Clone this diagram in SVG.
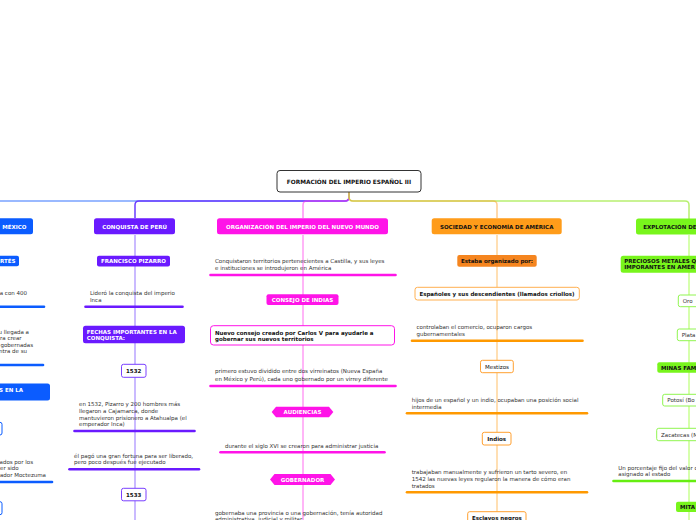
<svg xmlns="http://www.w3.org/2000/svg" width="696" height="520" viewBox="0 0 696 520">
<style>
.t{font-family:"DejaVu Sans",sans-serif;font-size:5.5px;fill:#333}
.b{font-weight:bold}
.w{fill:#fff}
.k{fill:#111}
.m{text-anchor:middle}
.e{text-anchor:end}
.c{fill:none;stroke-width:1.5}
.bar{fill:none;stroke-width:2.6;stroke-linecap:round}
</style>
<rect width="696" height="520" fill="#fff"/>
<g id="connectors">
<path class="c" stroke="#7aa2ff" d="M349,192 V197 Q349,201 345,201 H-20"/>
<path class="c" stroke="#6a3dff" d="M349,192 V197 Q349,201 345,201 H139 Q135,201 135,205 V218"/>
<path class="c" stroke="#ff33ee" stroke-opacity="0.55" d="M349,192 V197 Q349,201 345,201 H307 Q303,201 303,205 V218"/>
<path class="c" stroke="#b8f070" d="M349,192 V197 Q349,201 353,201 H685 Q689,201 689,205 V219"/>
<path class="c" stroke="#ff9a20" stroke-opacity="0.5" d="M349,192 V197 Q349,201 353,201 H493 Q497,201 497,205 V218"/>
<path class="c" stroke="#b9a3ff" d="M135,235 V520"/>
<path class="c" stroke="#ff9cf5" d="M303,235 V520"/>
<path class="c" stroke="#ffd59a" d="M497,235 V520"/>
<path class="c" stroke="#c8ff90" d="M689,235 V520"/>
</g>
<g id="root">
<rect x="277" y="170.5" width="144" height="21.5" rx="3" fill="#fff" stroke="#333" stroke-width="1"/>
<text class="t b k m" x="349" y="183.5" style="font-size:5.8px">FORMACIÓN DEL IMPERIO ESPAÑOL III</text>
</g>
<g id="mexico">
<rect x="-60" y="218.3" width="93" height="16" rx="2.5" fill="#0b5cff"/>
<text class="t b w e" x="26.5" y="228.5">MÉXICO</text>
<rect x="-40" y="255.7" width="59" height="10.5" rx="2" fill="#0b5cff"/>
<text class="t b w e" x="15.5" y="262.9">RTÉS</text>
<text class="t e" x="27" y="295.2">a con 400</text>
<path class="bar" stroke="#0b5cff" d="M-5,306.7 H44"/>
<text class="t e" x="29" y="333.7">u llegada a</text>
<text class="t" x="0" y="340.2">ra crear</text>
<text class="t e" x="33" y="346.9">gobernadas</text>
<text class="t e" x="27" y="353.2">ntra de su</text>
<path class="bar" stroke="#0b5cff" d="M-5,365 H43"/>
<rect x="-60" y="383.5" width="110" height="17" rx="2.5" fill="#0b5cff"/>
<text class="t b w e" x="23" y="392">S EN LA</text>
<rect x="-30" y="422.3" width="32" height="12.7" rx="2" fill="#fff" stroke="#0b5cff" stroke-width="1"/>
<text class="t e" x="33" y="464">ados por los</text>
<text class="t" x="0" y="470.2">er sido</text>
<text class="t e" x="46" y="477">rador Moctezuma</text>
<path class="bar" stroke="#0b5cff" d="M-5,482 H52"/>
<rect x="-30" y="501.7" width="32" height="13" rx="2" fill="#fff" stroke="#0b5cff" stroke-width="1"/>
</g>
<g id="peru">
<rect x="94" y="218.3" width="81" height="16" rx="2.5" fill="#6a1aff"/>
<text class="t b w m" x="134.5" y="228.5">CONQUISTA DE PERÚ</text>
<rect x="97" y="255.7" width="73" height="10.7" rx="2" fill="#6a1aff"/>
<text class="t b w m" x="133.5" y="263">FRANCISCO PIZARRO</text>
<text class="t" x="90" y="295.2">Lideró la conquista del imperio</text>
<text class="t" x="90" y="302.2">Inca</text>
<path class="bar" stroke="#6a1aff" d="M85.5,306.7 H182.5"/>
<rect x="83" y="325.7" width="102" height="17.6" rx="2.5" fill="#6a1aff"/>
<text class="t b w" x="86.7" y="334.2">FECHAS IMPORTANTES EN LA</text>
<text class="t b w" x="86.7" y="340.3">CONQUISTA:</text>
<rect x="121.5" y="364.3" width="24.5" height="13" rx="2" fill="#fff" stroke="#7a40ff" stroke-width="1"/>
<text class="t b k m" x="133.7" y="372.8">1532</text>
<text class="t" x="79" y="406.2">en 1532, Pizarro y 200 hombres más</text>
<text class="t" x="79" y="413">llegaron a Cajamarca, donde</text>
<text class="t" x="79" y="419.7">mantuvieron prisionero a Atahualpa (el</text>
<text class="t" x="79" y="426.4">emperador Inca)</text>
<path class="bar" stroke="#6a1aff" d="M74.5,431 H194.5"/>
<text class="t" x="74" y="457.7">él pagó una gran fortuna para ser liberado,</text>
<text class="t" x="74" y="464.2">pero poco después fue ejecutado</text>
<path class="bar" stroke="#6a1aff" d="M69.5,469.3 H199"/>
<rect x="121.5" y="488.3" width="24.5" height="12.5" rx="2" fill="#fff" stroke="#7a40ff" stroke-width="1"/>
<text class="t b k m" x="133.7" y="496.7">1533</text>
</g>
<g id="organizacion">
<rect x="217" y="218.3" width="171" height="16" rx="2.5" fill="#ff14e8"/>
<text class="t b w m" x="302.5" y="228.5">ORGANIZACIÓN DEL IMPERIO DEL NUEVO MUNDO</text>
<text class="t" x="215" y="262.7">Conquistaron territorios pertenecientes a Castilla, y sus leyes</text>
<text class="t" x="215" y="269.7">e instituciones se introdujeron en América</text>
<path class="bar" stroke="#ff14e8" d="M210.5,275 H395.5"/>
<rect x="266.5" y="294.3" width="72" height="10.7" rx="2" fill="#ff14e8"/>
<text class="t b w m" x="302.5" y="301.7">CONSEJO DE INDIAS</text>
<rect x="210.5" y="325.7" width="184" height="19.3" rx="3" fill="#fff" stroke="#ff14e8" stroke-width="1"/>
<text class="t b k" x="215" y="334.7">Nuevo consejo creado por Carlos V para ayudarle a</text>
<text class="t b k" x="215" y="341.2">gobernar sus nuevos territorios</text>
<text class="t" x="215" y="372.7">primero estuvo dividido entre dos virreinatos (Nueva España</text>
<text class="t" x="215" y="380.7">en México y Perú), cada uno gobernado por un virrey diferente</text>
<path class="bar" stroke="#ff14e8" d="M210.5,386 H395.5"/>
<polygon points="271.7,412 276,406.7 329,406.7 333.3,412 329,417.3 276,417.3" fill="#ff14e8"/>
<text class="t b w m" x="302.5" y="414">AUDIENCIAS</text>
<text class="t" x="225" y="447.7">durante el siglo XVI se crearon para administrar justicia</text>
<path class="bar" stroke="#ff14e8" d="M220.5,452.3 H384.5"/>
<polygon points="270,479.5 274.5,474 330.5,474 335,479.5 330.5,485 274.5,485" fill="#ff14e8"/>
<text class="t b w m" x="302.5" y="481.5">GOBERNADOR</text>
<text class="t" x="215" y="514.5">gobernaba una provincia o una gobernación, tenía autoridad</text>
<text class="t" x="215" y="521">administrativa, judicial y militar</text>
</g>
<g id="sociedad">
<rect x="431.7" y="218.3" width="130" height="16" rx="2.5" fill="#ff9c1a"/>
<text class="t b k m" x="496.7" y="228.5">SOCIEDAD Y ECONOMÍA DE AMÉRICA</text>
<rect x="457.3" y="255" width="79.4" height="11.7" rx="2" fill="#f5851f"/>
<text class="t b k m" x="497" y="262.8">Estaba organizado por:</text>
<rect x="415" y="287.3" width="164.3" height="12.7" rx="2.5" fill="#fff" stroke="#ffb050" stroke-width="1"/>
<text class="t b k m" x="497" y="295.7">Españoles y sus descendientes (llamados criollos)</text>
<text class="t" x="416.5" y="328.7">controlaban el comercio, ocuparon cargos</text>
<text class="t" x="416.5" y="335.9">gubernamentales</text>
<path class="bar" stroke="#ff9900" d="M412,340.7 H582.5"/>
<rect x="480.5" y="360.3" width="32.8" height="12.4" rx="2" fill="#fff" stroke="#ffa030" stroke-width="1"/>
<text class="t k m" x="497" y="368.5">Mestizos</text>
<text class="t" x="411.7" y="402">hijos de un español y un indio, ocupaban una posición social</text>
<text class="t" x="411.7" y="408.7">intermedia</text>
<path class="bar" stroke="#ff9900" d="M407,413.3 H587"/>
<rect x="482.3" y="432.3" width="28.7" height="12.7" rx="2" fill="#fff" stroke="#ffa030" stroke-width="1"/>
<text class="t b k m" x="496.7" y="440.7">Indios</text>
<text class="t" x="411.7" y="474.2">trabajaban manualmente y sufrieron un tarto severo, en</text>
<text class="t" x="411.7" y="481">1542 las nuevas leyes regularon la manera de cómo eran</text>
<text class="t" x="411.7" y="487.5">tratados</text>
<path class="bar" stroke="#ff9900" d="M407,492.3 H587"/>
<rect x="467.7" y="511.7" width="58.3" height="14" rx="2" fill="#fff" stroke="#ffa030" stroke-width="1"/>
<text class="t b k m" x="496.8" y="519.7">Esclavos negros</text>
</g>
<g id="explotacion">
<rect x="636" y="218.5" width="80" height="16" rx="2.5" fill="#78f51c"/>
<text class="t b k" x="643.3" y="228.5">EXPLOTACIÓN DE</text>
<rect x="620.7" y="255.7" width="90" height="17" rx="2.5" fill="#78f51c"/>
<text class="t b k" x="624.3" y="263">PRECIOSOS METALES Q</text>
<text class="t b k" x="624.3" y="269.1">IMPORANTES EN AMÉR</text>
<rect x="678.3" y="295" width="30" height="11.7" rx="2" fill="#fff" stroke="#90f550" stroke-width="1"/>
<text class="t" x="682.7" y="303.2">Oro</text>
<rect x="677.3" y="329" width="30" height="11.7" rx="2" fill="#fff" stroke="#90f550" stroke-width="1"/>
<text class="t" x="681.7" y="337">Plata</text>
<rect x="657.3" y="362.3" width="50" height="10.4" rx="2" fill="#78f51c"/>
<text class="t b k" x="661" y="369.7">MINAS FAM</text>
<rect x="662.7" y="394.3" width="50" height="11.7" rx="2" fill="#fff" stroke="#90f550" stroke-width="1"/>
<text class="t" x="667.3" y="402.4">Potosí (Bo</text>
<rect x="656.7" y="428.3" width="50" height="12.4" rx="2" fill="#fff" stroke="#90f550" stroke-width="1"/>
<text class="t" x="661" y="436.7">Zacatecas (M</text>
<text class="t" x="618.3" y="469.7">Un porcentaje fijo del valor d</text>
<text class="t" x="618.3" y="475.9">asignado al estado</text>
<path class="bar" stroke="#66ee11" d="M613.5,481 H710"/>
<rect x="676" y="501.7" width="40" height="10.3" rx="2" fill="#78f51c"/>
<text class="t b k" x="680" y="509">MITA</text>
</g>
</svg>
